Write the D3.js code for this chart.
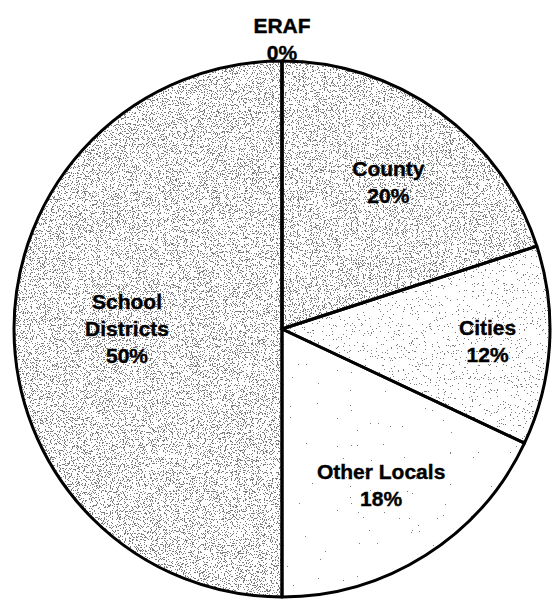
<!DOCTYPE html>
<html lang="en">
<head>
    <meta charset="UTF-8">
    <script src="https://cdn.jsdelivr.net/npm/d3@7"></script>
    <title>Property Tax Allocation</title>
    <style>
        body { margin: 0; background: #fff; }
        text { font-family: "Liberation Sans", Arial, sans-serif; font-weight: bold; font-size: 21px; fill: #000; stroke: #000; stroke-width: 0.4px; }
    </style>
</head>
<body>
    <script>
        const w = 553;
        const h = 602;

        // slices, clockwise from 12 o'clock
        const names = [["ERAF"], ["County"], ["Cities"], ["Other Locals"], ["School", "Districts"]];
        const shares = [0, 20, 12, 18, 50];
        const pctLabels = ["0%", "20%", "12%", "18%", "50%"];

        // stipple density for each slice (threshold on noise, higher = sparser)
        const stipple = [0.7, 0.6, 0.71, 0.82, 0.597];
        // label distance from centre for each slice
        const labelR = [290, 181, 206, 185, 155];

        const cx = 282, cy = 329, r = 268;

        const svg = d3.select("body")
                        .append("svg")
                        .attr("width", w)
                        .attr("height", h);

        const defs = svg.append("defs");

        //one noise filter per slice
        stipple.forEach((t, i) => {
            const f = defs.append("filter")
                            .attr("id", "stip" + i)
                            .attr("x", 0).attr("y", 0)
                            .attr("width", "100%").attr("height", "100%");
            f.append("feTurbulence")
                .attr("type", "fractalNoise")
                .attr("baseFrequency", 0.85)
                .attr("numOctaves", 3)
                .attr("seed", i + 3)
                .attr("result", "noise");
            f.append("feColorMatrix")
                .attr("in", "noise")
                .attr("type", "matrix")
                .attr("values", `0 0 0 0 0.2  0 0 0 0 0.2  0 0 0 0 0.2  14 0 0 0 ${-14 * t + 0.5}`)
                .attr("result", "dots0");
            f.append("feComponentTransfer")
                .attr("in", "dots0")
                .attr("result", "dots1")
                .append("feFuncA")
                .attr("type", "discrete")
                .attr("tableValues", "0 1");
            f.append("feComposite")
                .attr("in", "dots1")
                .attr("in2", "SourceGraphic")
                .attr("operator", "in")
                .attr("result", "dots");
            const m = f.append("feMerge");
            m.append("feMergeNode").attr("in", "SourceGraphic");
            m.append("feMergeNode").attr("in", "dots");
        });

        const pie = d3.pie()
                        .sort(null)
                        .value(d => d);

        const arcs = pie(shares);

        const arc = d3.arc()
                        .innerRadius(0)
                        .outerRadius(r);

        const g = svg.append("g")
                        .attr("transform", `translate(${cx},${cy})`);

        //textured fills
        g.selectAll("path.fill")
            .data(arcs)
            .enter()
            .append("path")
            .attr("class", "fill")
            .attr("d", arc)
            .attr("fill", "#fff")
            .attr("filter", (d, i) => `url(#stip${i})`);

        //slice outlines
        g.selectAll("path.edge")
            .data(arcs)
            .enter()
            .append("path")
            .attr("class", "edge")
            .attr("d", arc)
            .attr("fill", "none")
            .attr("stroke", "#000")
            .attr("stroke-width", 3)
            .attr("stroke-linejoin", "round");

        //labels
        const lineH = 27;
        arcs.forEach((d, i) => {
            const a = (d.startAngle + d.endAngle) / 2;
            const x = Math.sin(a) * labelR[i];
            const y = -Math.cos(a) * labelR[i];
            const lines = names[i].concat([pctLabels[i]]);
            const y0 = y - (lines.length - 1) * lineH / 2 + 7;
            const t = g.append("text")
                        .attr("text-anchor", "middle");
            lines.forEach((s, j) => {
                t.append("tspan")
                    .attr("x", x)
                    .attr("y", y0 + j * lineH)
                    .text(s);
            });
        });
    </script>
</body>
</html>
